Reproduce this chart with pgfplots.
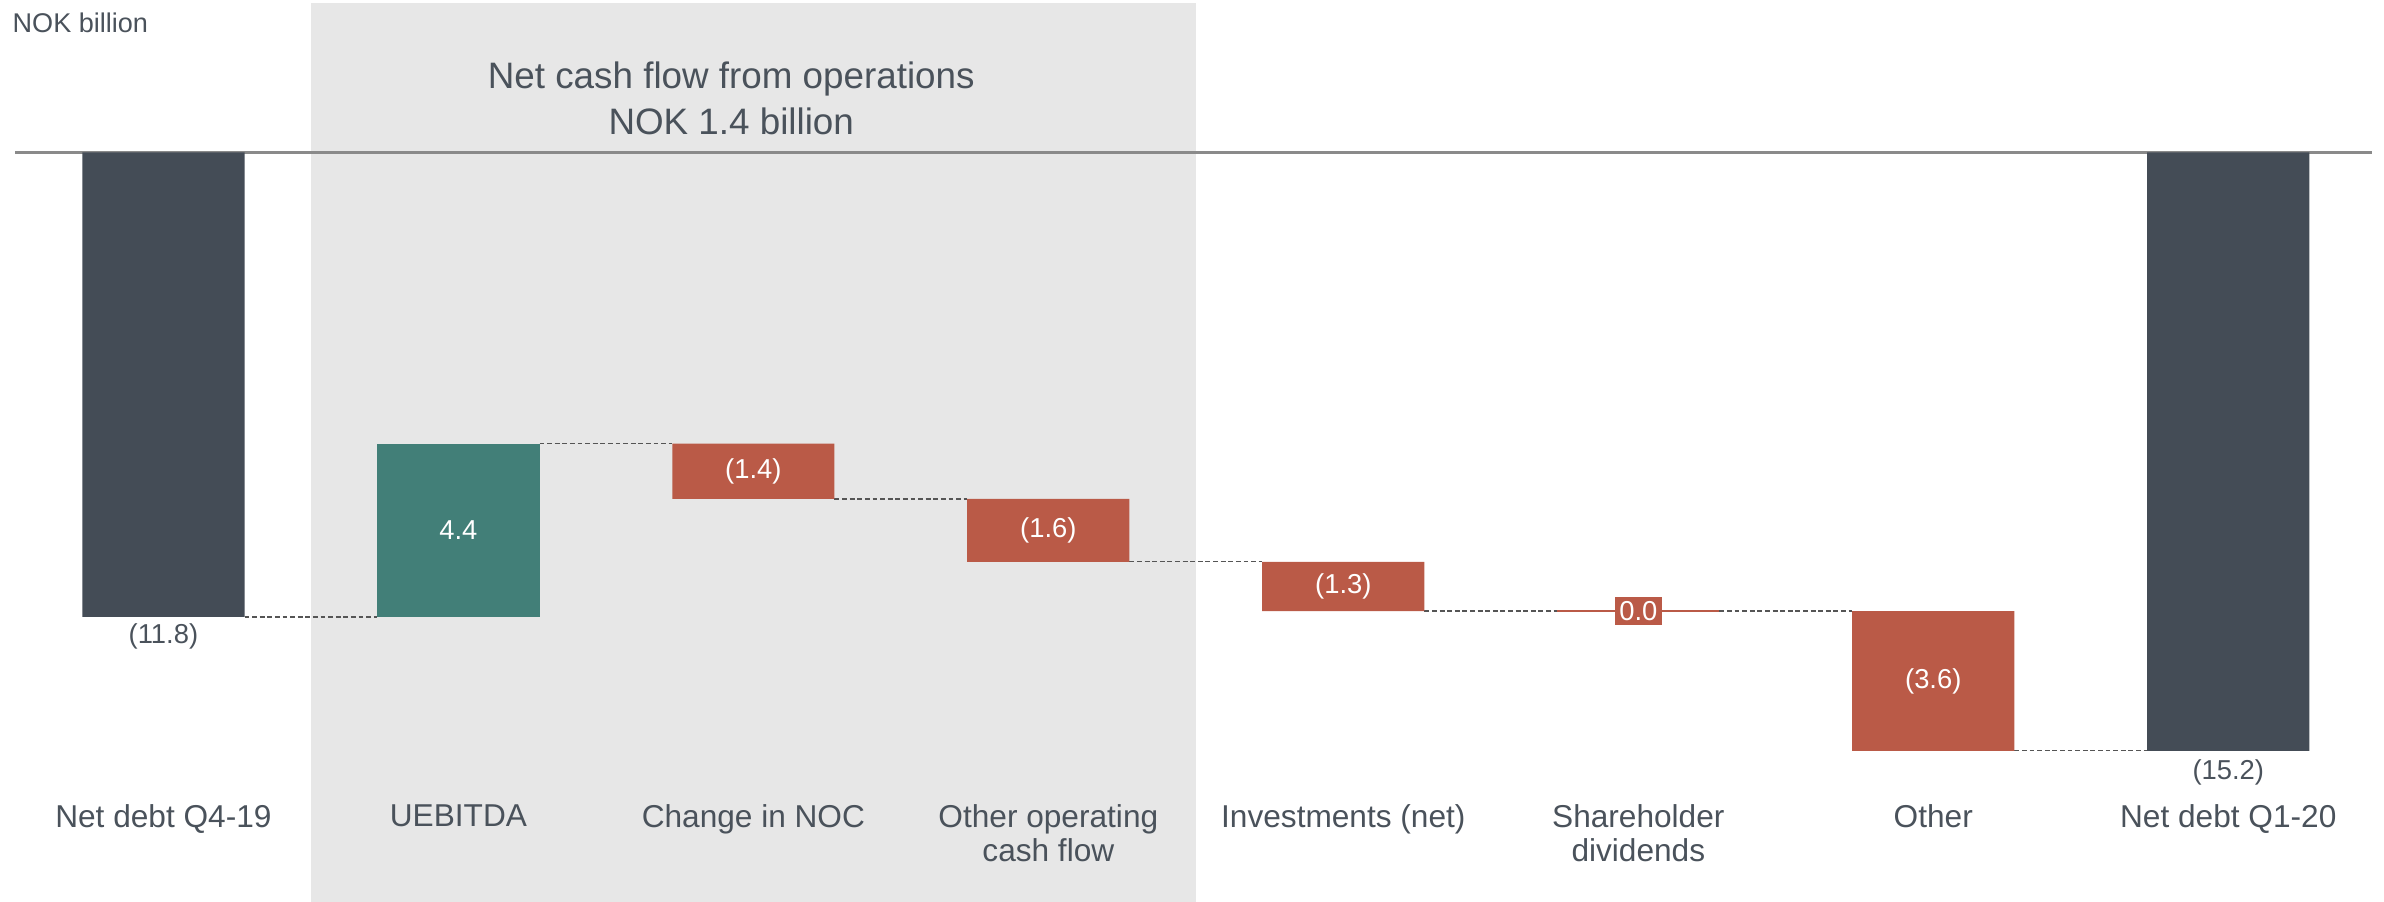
\documentclass[border=0pt]{standalone}
\usepackage{pgfplots}
\usepackage{pgfplotstable}
\pgfplotsset{compat=1.18}
\usepackage{fontspec}
\setmainfont{Liberation Sans}
\definecolor{darkbar}{HTML}{444C56}
\definecolor{greenbar}{HTML}{427F78}
\definecolor{redbar}{HTML}{BA5A47}
\definecolor{band}{HTML}{E7E7E7}
\definecolor{txt}{HTML}{4A525B}
\definecolor{zeroline}{HTML}{8A8A8A}
\definecolor{conn}{HTML}{555555}

% base = top of floating bar; all visible parts stacked downward
\pgfplotstableread{
x base dark green red
0 0 -11.8 0 0
1 -7.4 0 -4.4 0
2 -7.4 0 0 -1.4
3 -8.8 0 0 -1.6
4 -10.4 0 0 -1.25
5 -11.65 0 0 0
6 -11.65 0 0 -3.55
7 0 -15.2 0 0
}\wf

\pgfplotsset{wfax/.style={scale only axis, width=784pt, height=296.5pt,
  xmin=-0.554, xmax=7.528, ymin=-19.03, ymax=3.87,
  axis line style={draw=none}, xtick=\empty, ytick=\empty, clip=false}}
\newcommand\catfont{\fontsize{10.4}{11.2}\selectfont}
\newcommand\valfont{\fontsize{9}{10.8}\selectfont}

\begin{document}
\begin{tikzpicture}
\begin{axis}[wfax]
% shaded band
\addplot[fill=band, draw=none] coordinates {(0.5,-19.03) (3.5,-19.03) (3.5,3.79) (0.5,3.79)} -- cycle;
% zero line
\addplot[zeroline, line width=0.8pt] coordinates {(-0.503,0) (7.487,0)};
% connectors
\addplot[conn, line width=0.45pt, dash pattern=on 1.6pt off 0.9pt, unbounded coords=jump] coordinates {
(0.275,-11.8) (0.725,-11.8) (1,nan)
(1.275,-7.4) (1.725,-7.4) (2,nan)
(2.275,-8.8) (2.725,-8.8) (3,nan)
(3.275,-10.4) (3.725,-10.4) (4,nan)
(4.275,-11.65) (4.725,-11.65) (5,nan)
(5.275,-11.65) (5.725,-11.65) (6,nan)
(6.275,-15.2) (6.725,-15.2)
};
% zero-size shareholder bar
\addplot[redbar, line width=0.75pt] coordinates {(4.725,-11.65) (5.275,-11.65)};
\end{axis}

\begin{axis}[wfax, ybar stacked, bar width=0.55]
\addplot[fill=none, draw=none] table[x=x,y=base]{\wf};
\addplot[fill=darkbar, draw=none] table[x=x,y=dark]{\wf};
\addplot[fill=greenbar, draw=none] table[x=x,y=green]{\wf};
\addplot[fill=redbar, draw=none] table[x=x,y=red]{\wf};
\end{axis}

\begin{axis}[wfax]
\node[anchor=west, text=txt, font=\fontsize{8.9}{10}\selectfont, inner sep=0] at (axis cs:-0.513,3.28) {NOK billion};
\node[align=center, text=txt, font=\fontsize{12.1}{15}\selectfont] at (axis cs:1.925,1.37) {Net cash flow from operations\\NOK 1.4 billion};

\node[text=txt, font=\valfont] at (axis cs:0,-12.3) {(11.8)};
\node[text=txt, font=\valfont] at (axis cs:7,-15.74) {(15.2)};
\node[text=white, font=\valfont] at (axis cs:1,-9.6) {4.4};
\node[text=white, font=\valfont] at (axis cs:2,-8.1) {(1.4)};
\node[text=white, font=\valfont] at (axis cs:3,-9.6) {(1.6)};
\node[text=white, font=\valfont] at (axis cs:4,-11.03) {(1.3)};
\node[text=white, fill=redbar, inner sep=1.5pt, font=\valfont] at (axis cs:5,-11.65) {0.0};
\node[text=white, font=\valfont] at (axis cs:6,-13.43) {(3.6)};

\node[anchor=north, align=center, inner sep=0, text=txt, font=\catfont] at (axis cs:0,-16.56) {Net debt Q4-19};
\node[anchor=north, align=center, inner sep=0, text=txt, font=\catfont] at (axis cs:1,-16.56) {UEBITDA};
\node[anchor=north, align=center, inner sep=0, text=txt, font=\catfont] at (axis cs:2,-16.56) {Change in NOC};
\node[anchor=north, align=center, inner sep=0, text=txt, font=\catfont] at (axis cs:3,-16.56) {Other operating\\cash flow};
\node[anchor=north, align=center, inner sep=0, text=txt, font=\catfont] at (axis cs:4,-16.56) {Investments (net)};
\node[anchor=north, align=center, inner sep=0, text=txt, font=\catfont] at (axis cs:5,-16.56) {Shareholder\\dividends};
\node[anchor=north, align=center, inner sep=0, text=txt, font=\catfont] at (axis cs:6,-16.56) {Other};
\node[anchor=north, align=center, inner sep=0, text=txt, font=\catfont] at (axis cs:7,-16.56) {Net debt Q1-20};
\end{axis}
\end{tikzpicture}
\end{document}
